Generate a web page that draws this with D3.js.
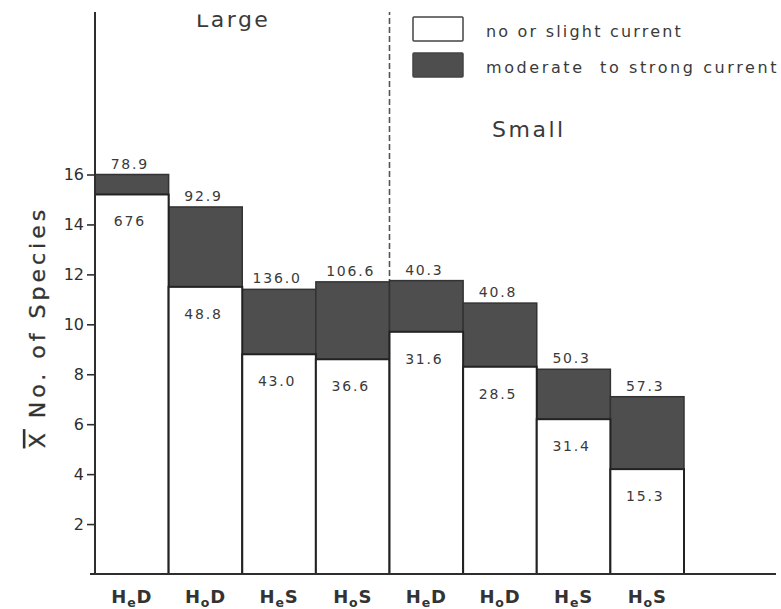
<!DOCTYPE html>
<html>
<head>
<meta charset="utf-8">
<script src="https://cdn.jsdelivr.net/npm/d3@7"></script>
<style>
  html, body { margin: 0; padding: 0; background: #fff; }
  svg { display: block; font-family: "DejaVu Sans", sans-serif; }
</style>
</head>
<body>
<svg id="chart" width="781" height="609"></svg>
<script>
// ---- data ----
const habitatBase = ["H", "H", "H", "H", "H", "H", "H", "H"];
const habitatSub  = ["e", "o", "e", "o", "e", "o", "e", "o"];
const habitatEnd  = ["D", "D", "S", "S", "D", "D", "S", "S"];
const sizeGroups  = ["Large", "Large", "Large", "Large", "Small", "Small", "Small", "Small"];
const slightMean  = [15.2, 11.5, 8.8, 8.6, 9.7, 8.3, 6.2, 4.2];     // no or slight current
const strongMean  = [16.0, 14.7, 11.4, 11.7, 11.75, 10.85, 8.2, 7.1]; // moderate to strong current
const slightLabel = ["676", "48.8", "43.0", "36.6", "31.6", "28.5", "31.4", "15.3"];
const strongLabel = ["78.9", "92.9", "136.0", "106.6", "40.3", "40.8", "50.3", "57.3"];
const yTicks      = [2, 4, 6, 8, 10, 12, 14, 16];
const legendLabels = ["no or slight current", "moderate  to strong current"];

// ---- layout ----
const svg = d3.select("#chart");
const darkFill = "#4e4e4e";
const ink = "#2e2e2e";
const idx = d3.range(habitatBase.length);

const x = d3.scaleBand().domain(idx).range([95, 684]).padding(0);
const y = d3.scaleLinear().domain([0, 16]).range([574, 174.5]);

const defs = svg.append("defs");
defs.append("clipPath").attr("id", "clip")
  .append("rect").attr("x", 0).attr("y", 12).attr("width", 781).attr("height", 597);
defs.append("clipPath").attr("id", "clipTitle")
  .append("rect").attr("x", 0).attr("y", 14.5).attr("width", 781).attr("height", 597);

const g = svg.append("g").attr("clip-path", "url(#clip)");

// dashed separator between Large and Small
g.append("line")
  .attr("x1", x(4)).attr("x2", x(4))
  .attr("y1", 0).attr("y2", y(d3.max([strongMean[3], strongMean[4]])))
  .attr("stroke", "#555").attr("stroke-width", 1.6)
  .attr("stroke-dasharray", "6,3");

// dark bars (moderate to strong)
g.selectAll("rect.strong").data(idx).join("rect")
  .attr("class", "strong")
  .attr("x", d => x(d)).attr("width", x.bandwidth())
  .attr("y", d => y(strongMean[d])).attr("height", d => y(0) - y(strongMean[d]))
  .attr("fill", darkFill).attr("stroke", "#333").attr("stroke-width", 1.5);

// white bars (no or slight)
g.selectAll("rect.slight").data(idx).join("rect")
  .attr("class", "slight")
  .attr("x", d => x(d)).attr("width", x.bandwidth())
  .attr("y", d => y(slightMean[d])).attr("height", d => y(0) - y(slightMean[d]))
  .attr("fill", "#fff").attr("stroke", "#222").attr("stroke-width", 2);

// value labels
g.selectAll("text.top").data(idx).join("text")
  .attr("class", "top")
  .attr("x", d => x(d) + x.bandwidth() / 2 - 2)
  .attr("y", d => y(strongMean[d]) - 6)
  .attr("text-anchor", "middle")
  .attr("font-size", 14).attr("letter-spacing", 1.8).attr("fill", "#3a3a3a")
  .text(d => strongLabel[d]);

g.selectAll("text.inner").data(idx).join("text")
  .attr("class", "inner")
  .attr("x", d => x(d) + x.bandwidth() / 2 - 2)
  .attr("y", d => y(slightMean[d]) + 32)
  .attr("text-anchor", "middle")
  .attr("font-size", 14).attr("letter-spacing", 1.8).attr("fill", "#3a3a3a")
  .text(d => slightLabel[d]);

// y axis
const yAxis = d3.axisLeft(y).tickValues(yTicks).tickSize(8).tickPadding(3).tickFormat(d3.format("d"));
const ya = g.append("g").attr("transform", "translate(95,0)").call(yAxis);
ya.select(".domain").remove();
ya.selectAll(".tick line").attr("stroke", ink).attr("stroke-width", 1.6);
ya.selectAll(".tick text").attr("font-size", 16).attr("fill", ink)
  .attr("font-family", "DejaVu Sans, sans-serif");

g.append("line").attr("x1", 95).attr("x2", 95).attr("y1", 0).attr("y2", y(0) + 1)
  .attr("stroke", ink).attr("stroke-width", 2);

// x axis
const xAxis = d3.axisBottom(x).tickSize(0).tickPadding(0).tickFormat("");
const xa = g.append("g").attr("transform", `translate(0,${y(0)})`).call(xAxis);
xa.select(".domain").remove();
g.append("line").attr("x1", 90).attr("x2", 776).attr("y1", y(0)).attr("y2", y(0))
  .attr("stroke", ink).attr("stroke-width", 2);

const xl = g.selectAll("text.cat").data(idx).join("text")
  .attr("class", "cat")
  .attr("x", d => x(d) + x.bandwidth() / 2)
  .attr("y", 603)
  .attr("text-anchor", "middle")
  .attr("font-size", 18).attr("font-weight", "bold").attr("fill", "#333")
  .attr("letter-spacing", 0.8);
xl.append("tspan").text(d => habitatBase[d]);
xl.append("tspan").attr("font-size", 12.5).attr("dy", 4).text(d => habitatSub[d]);
xl.append("tspan").attr("dy", -4).text(d => habitatEnd[d]);

// y axis title
const yt = g.append("text")
  .attr("transform", "translate(45,327) rotate(-90)")
  .attr("text-anchor", "middle")
  .attr("font-size", 22).attr("letter-spacing", 4).attr("fill", "#333")
  .attr("stroke", "#333").attr("stroke-width", 0.3);
yt.append("tspan").attr("text-decoration", "overline").text("X");
yt.append("tspan").text(" No. of Species");

// group titles
const groupNames = Array.from(new Set(sizeGroups));
const groupPos = { "Large": [196, 27], "Small": [492, 137] };
g.append("g").attr("clip-path", "url(#clipTitle)")
  .selectAll("text.group").data(groupNames).join("text")
  .attr("class", "group")
  .attr("x", d => groupPos[d][0]).attr("y", d => groupPos[d][1])
  .attr("font-size", 22).attr("letter-spacing", 2.5).attr("fill", "#3a3a3a")
  .text(d => d);

// legend
const legendFill = ["#fff", darkFill];
const legendY = [17, 53];
const lg = g.selectAll("g.leg").data([0, 1]).join("g").attr("class", "leg");
lg.append("rect")
  .attr("x", 413).attr("y", d => legendY[d]).attr("width", 50).attr("height", 24)
  .attr("fill", d => legendFill[d]).attr("stroke", "#444").attr("stroke-width", 1.5)
  .attr("rx", 1);
lg.append("text")
  .attr("x", 486).attr("y", d => legendY[d] + 20)
  .attr("font-size", 16).attr("letter-spacing", d => d === 0 ? 2.2 : 2.6).attr("fill", "#3a3a3a")
  .attr("xml:space", "preserve").style("white-space", "pre")
  .text(d => legendLabels[d]);
</script>
</body>
</html>
